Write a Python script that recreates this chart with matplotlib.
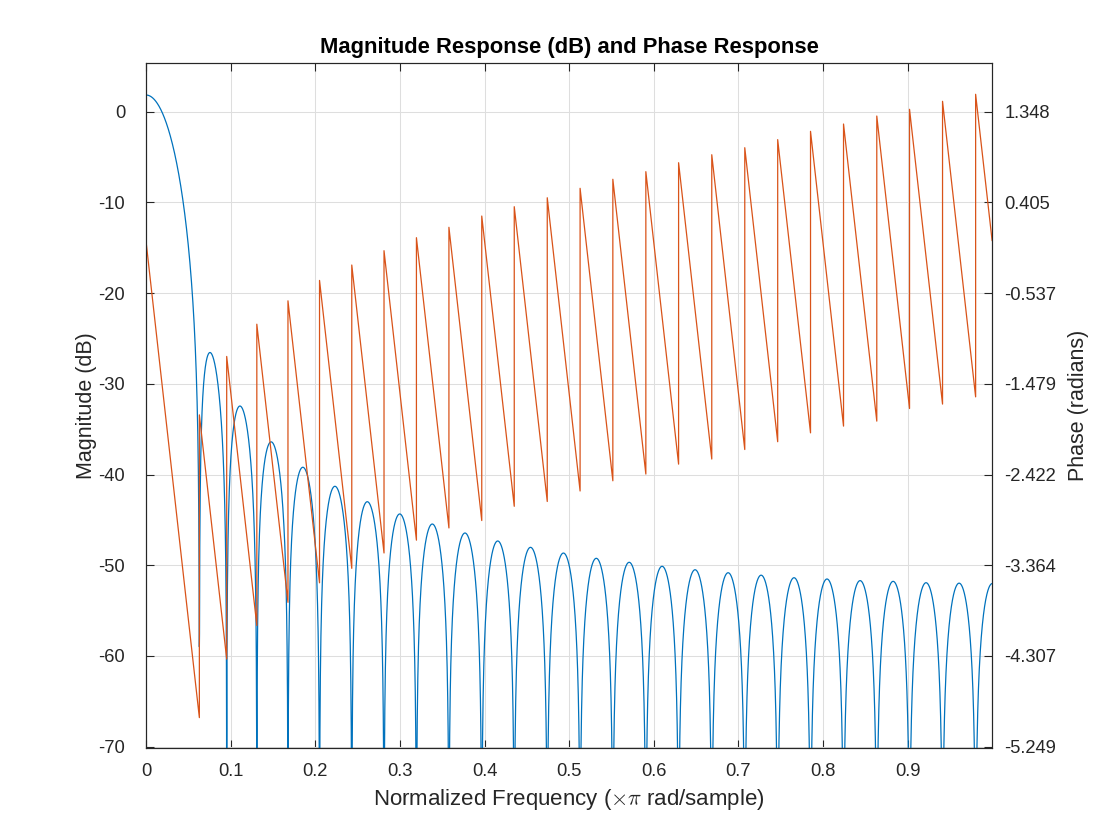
import numpy as np
import matplotlib
matplotlib.use("Agg")
import matplotlib.pyplot as plt

# ---------------- data ----------------
# frequencies (x pi rad/sample) of the magnitude nulls / phase jumps
null_freqs = [0.0630, 0.0953, 0.1309, 0.1677, 0.2050, 0.2431, 0.2812, 0.3195,
              0.3579, 0.3967, 0.4351, 0.4741, 0.5129, 0.5516, 0.5906, 0.6293,
              0.6685, 0.7075, 0.7464, 0.7852, 0.8242, 0.8635, 0.9022, 0.9412,
              0.9803]
# peak level (dB) of the main lobe (at 0) and of each following lobe
lobe_peaks_db = [1.84, -26.55, -32.45, -36.40, -39.20, -41.30, -43.00, -44.35,
                 -45.46, -46.45, -47.33, -48.03, -48.66, -49.24, -49.68, -50.12,
                 -50.50, -50.83, -51.10, -51.38, -51.52, -51.70, -51.78, -51.93,
                 -51.98, -52.02]
first_null_depth_db = -59.0
freq_end = 0.99976

# phase (radians): value just before and just after each jump
phase_start = 0.0
phase_bottom = [-4.948, -4.339, -3.991, -3.750, -3.547, -3.397, -3.237, -3.104,
                -2.977, -2.900, -2.752, -2.702, -2.593, -2.487, -2.417, -2.314,
                -2.261, -2.162, -2.081, -1.989, -1.919, -1.867, -1.736, -1.690,
                -1.615]
phase_top = [-1.802, -1.195, -0.860, -0.617, -0.405, -0.245, -0.096, 0.039,
             0.147, 0.264, 0.361, 0.454, 0.552, 0.646, 0.725, 0.818,
             0.901, 0.974, 1.058, 1.144, 1.220, 1.303, 1.373, 1.456,
             1.529]
phase_end = 0.01

mag_ticks = [-70, -60, -50, -40, -30, -20, -10, 0]
phase_tick_labels = ['-5.249', '-4.307', '-3.364', '-2.422', '-1.479',
                     '-0.537', '0.405', '1.348']
freq_ticks = [0, 0.1, 0.2, 0.3, 0.4, 0.5, 0.6, 0.7, 0.8, 0.9]
freq_tick_labels = ['0', '0.1', '0.2', '0.3', '0.4', '0.5', '0.6', '0.7', '0.8', '0.9']

mag_ylim = (-70.1, 5.37)

# ---------------- magnitude curve ----------------
x = np.union1d(np.linspace(0, freq_end, 6000), np.array(null_freqs))
w = np.pi * x
A = np.ones_like(x)
for n in null_freqs:
    A *= (np.cos(w) - np.cos(np.pi * n))
db = 20 * np.log10(np.abs(A) + 1e-300)
edges = [0.0] + list(null_freqs) + [freq_end + 1e-9]
out = np.empty_like(db)
for i in range(len(edges) - 1):
    m = (x >= edges[i]) & (x < edges[i + 1])
    seg = db[m]
    ref = seg[0] if i == 0 else seg.max()
    out[m] = seg - ref + lobe_peaks_db[i]
out = np.clip(out, -150, None)
near = np.abs(x - null_freqs[0]) < 0.003
out[near] = np.maximum(out[near], first_null_depth_db)

# ---------------- phase polyline ----------------
px = [0.0]
py = [phase_start]
for n, b, t in zip(null_freqs, phase_bottom, phase_top):
    px += [n, n]
    py += [b, t]
px.append(freq_end)
py.append(phase_end)

# ---------------- figure ----------------
plt.rcParams['font.family'] = ['Liberation Sans', 'DejaVu Sans']
plt.rcParams['axes.unicode_minus'] = False
plt.rcParams['mathtext.fontset'] = 'cm'
dark = '#262626'

fig = plt.figure(figsize=(11.2, 8.4), dpi=100)
ax = fig.add_axes([0.1304, 0.1101, 0.7554, 0.8149])
ax2 = ax.twinx()

ax.plot(x, out, color='#0072BD', lw=0.9)
ax2.plot(px, py, color='#D95319', lw=0.9)

ax.set_xlim(0, freq_end)
ax.set_ylim(*mag_ylim)
phase_ticks = [float(s) for s in phase_tick_labels]
slope = (phase_ticks[-1] - phase_ticks[0]) / (mag_ticks[-1] - mag_ticks[0])
ax2.set_ylim(phase_ticks[-1] + slope * mag_ylim[0], phase_ticks[-1] + slope * mag_ylim[1])

ax.set_xticks(freq_ticks)
ax.set_xticklabels(freq_tick_labels)
ax.set_yticks(mag_ticks)
ax.set_yticklabels([str(v) for v in mag_ticks])
ax2.set_yticks(phase_ticks)
ax2.set_yticklabels(phase_tick_labels)

ax.grid(True, color='#DEDEDE', lw=0.75)
ax.set_axisbelow(True)

for a in (ax, ax2):
    for s in a.spines.values():
        s.set_color(dark)
        s.set_linewidth(0.8)
ax.tick_params(axis='x', direction='in', length=6, width=0.8, colors=dark,
               labelsize=13.2, top=True, pad=11)
ax.tick_params(axis='y', direction='in', length=6, width=0.8, colors=dark,
               labelsize=13.2, right=False, pad=15)
ax2.tick_params(axis='y', direction='in', length=6, width=0.8, colors=dark,
                labelsize=13.2, pad=9)

ax.set_xlabel('Normalized Frequency ($\\times\\pi$ rad/sample)', fontsize=16, color=dark, labelpad=5)
ax.set_ylabel('Magnitude (dB)', fontsize=15.5, color=dark, labelpad=1)
ax2.set_ylabel('Phase (radians)', fontsize=15.5, color=dark, labelpad=8)
ax.set_title('Magnitude Response (dB) and Phase Response', fontsize=15.8,
             fontweight='bold', color='black', pad=7)

fig.savefig('out.png', dpi=100, facecolor='white')
